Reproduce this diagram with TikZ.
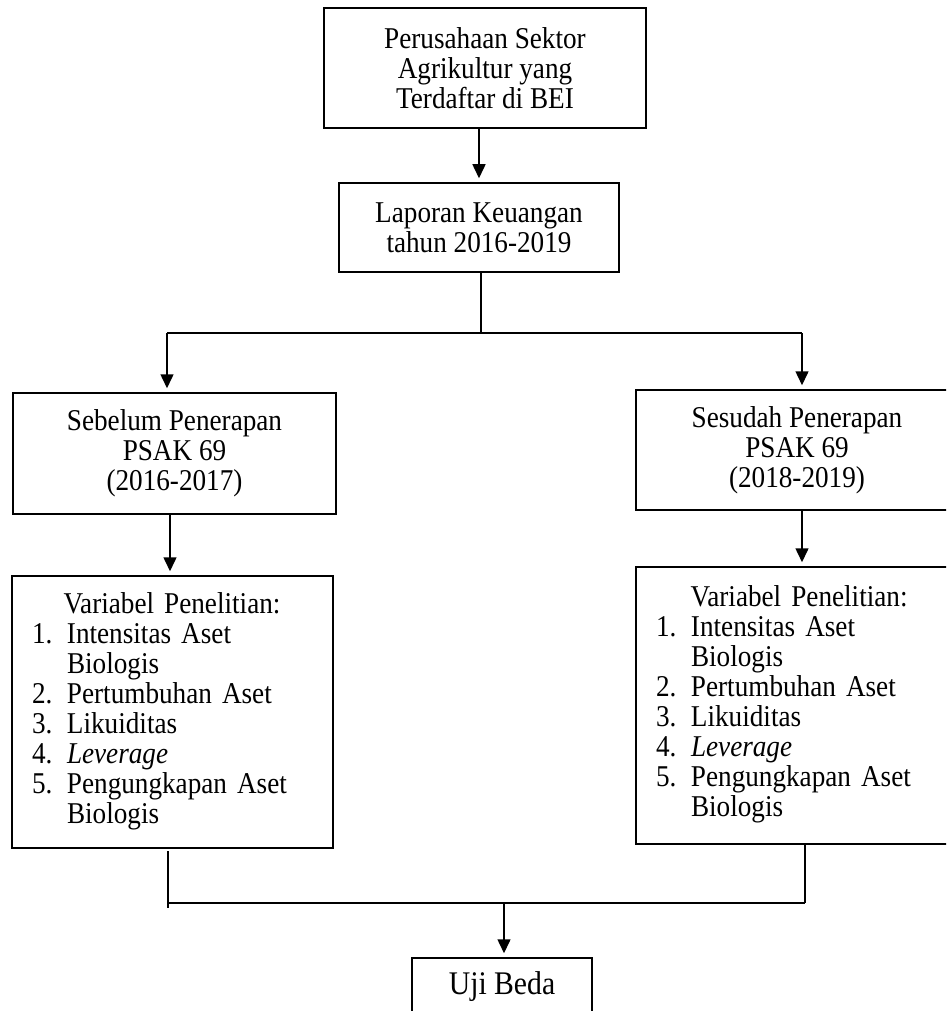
\documentclass[tikz,border=0pt]{standalone}
\usepackage{fontspec}
\setmainfont[FakeStretch=0.9]{Liberation Serif}
\usetikzlibrary{arrows.meta}
\newcommand{\vlist}[1]{\begin{tabular}{@{}p{35pt}@{}l@{}}
\multicolumn{2}{@{}l@{}}{\hspace{#1}Variabel Penelitian:}\\
1. & Intensitas Aset\\
 & Biologis\\
2. & Pertumbuhan Aset\\
3. & Likuiditas\\
4. & \textit{Leverage}\\
5. & Pengungkapan Aset\\
 & Biologis
\end{tabular}}
\begin{document}
\begin{tikzpicture}[x=1pt,y=-1pt,
  box/.style={draw, line width=1.5pt, align=center, inner sep=0pt,
    font=\fontsize{30.2}{30}\selectfont},
  listbox/.style={draw, line width=1.5pt, align=left, inner xsep=20pt, inner ysep=0pt,
    font=\fontsize{30.2}{30}\selectfont},
  conn/.style={line width=1.5pt},
  arr/.style={line width=1.5pt, -{Triangle[length=14pt,width=13pt]}, shorten >=4pt}]
\useasboundingbox (0,0) rectangle (946,1011);
\clip (0,0) rectangle (946,1011);
\fill[white] (0,0) rectangle (946,1011);

\node[box, minimum width=322pt, minimum height=120pt] (top) at (485,68)
  {Perusahaan Sektor\\Agrikultur yang\\Terdaftar di BEI};
\node[box, minimum width=280pt, minimum height=89pt] (lap) at (479,227.5)
  {Laporan Keuangan\\tahun 2016-2019};
\node[box, minimum width=323pt, minimum height=121pt] (seb) at (174.5,453.5)
  {Sebelum Penerapan\\PSAK 69\\(2016-2017)};
\node[box, minimum width=322pt, minimum height=120pt] (ses) at (797,450)
  {Sesudah Penerapan\\PSAK 69\\(2018-2019)};
\node[listbox, text width=281pt, minimum height=272pt] (varL) at (172.5,712)
  {\vlist{31.6pt}};
\node[listbox, text width=282pt, minimum height=277pt] (varR) at (797,705.5)
  {\vlist{34.7pt}};
\node[box, minimum width=180pt, minimum height=58pt,
  font=\fontsize{33}{33}\selectfont] (uji) at (502,987)
  {Uji Beda};

\coordinate (split) at (481,333);
\coordinate (hl) at (167,333);
\coordinate (hr) at (802,333);
\coordinate (blt) at (168,851);
\coordinate (bl) at (168,903);
\coordinate (blb) at (168,908);
\coordinate (br) at (805,903);
\coordinate (bm) at (504,903);

\draw[arr] (lap |- top.south) -- (lap.north);
\draw[conn] (split |- lap.south) -- (split);
\draw[conn] (hl) -- (hr);
\draw[arr] (hl) -- (hl |- seb.north);
\draw[arr] (hr) -- (hr |- ses.north);
\draw[arr] ([xshift=-4.5pt]seb.south) -- ([xshift=-4.5pt]seb.south |- varL.north);
\draw[arr] (hr |- ses.south) -- (hr |- varR.north);
\draw[conn] (blt) -- (blb);
\draw[conn] (br |- varR.south) -- (br);
\draw[conn] (bl) -- (br);
\draw[arr] (bm) -- (bm |- uji.north);
\end{tikzpicture}
\end{document}
